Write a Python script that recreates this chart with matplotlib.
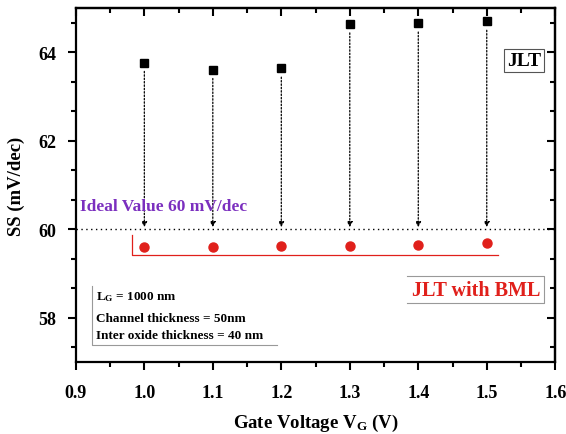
import matplotlib
matplotlib.use("Agg")
import matplotlib.pyplot as plt
from matplotlib.ticker import MultipleLocator, FormatStrFormatter
from matplotlib.patches import FancyArrowPatch

plt.rcParams['font.family'] = ['Liberation Serif', 'DejaVu Serif']
plt.rcParams['font.weight'] = 'bold'
plt.rcParams['mathtext.fontset'] = 'custom'
plt.rcParams['mathtext.rm'] = 'Liberation Serif:bold'
plt.rcParams['mathtext.it'] = 'Liberation Serif:bold'
plt.rcParams['mathtext.bf'] = 'Liberation Serif:bold'

# data
vg = [1.0, 1.1, 1.2, 1.3, 1.4, 1.5]
ss_jlt = [63.77, 63.61, 63.64, 64.64, 64.66, 64.70]
ss_bml = [59.61, 59.61, 59.62, 59.62, 59.64, 59.70]
ideal = 60

PURPLE = "#7b2fbf"
RED = "#e0201b"
GRAY = "#999999"

fig = plt.figure(figsize=(5.66, 4.35), dpi=100)
ax = fig.add_axes([0.134, 0.1655, 0.847, 0.8135])

ax.set_xlim(0.9, 1.6)
ax.set_ylim(57, 65)

# ideal value reference line
ax.axhline(ideal, color="black", ls=(0, (1, 2.5)), lw=1.0, zorder=1)

# dotted arrows from each JLT point down to the ideal line
for x, y in zip(vg, ss_jlt):
    arr = FancyArrowPatch((x, y - 0.2), (x, ideal + 0.05),
                          arrowstyle="-|>,head_length=3,head_width=1.6",
                          linestyle=(0, (1.2, 1.5)), lw=0.9, color="black",
                          shrinkA=0, shrinkB=0, zorder=2)
    ax.add_patch(arr)

ax.plot(vg, ss_jlt, "s", color="black", ms=6, zorder=4)
ax.plot(vg, ss_bml, "o", color=RED, ms=6.5, zorder=4)

# red bracket under the BML points
ax.plot([0.982, 0.982, 1.516], [59.86, 59.41, 59.41], color=RED, lw=0.9,
        zorder=3)

ax.text(0.906, 60.52, "Ideal Value 60 mV/dec", color=PURPLE, fontsize=12.5,
        fontweight="bold", ha="left", va="center")

ax.text(1.554, 63.82, "JLT", fontsize=14, fontweight="bold", ha="center",
        va="center",
        bbox=dict(boxstyle="square,pad=0.15", fc="white", ec="#555555", lw=0.8))

# legend-like label for the BML series, box open on the left
ax.text(1.579, 58.63, "JLT with BML", color=RED, fontsize=14.5,
        fontweight="bold", ha="right", va="center")
ax.plot([1.383, 1.583, 1.583, 1.383], [58.94, 58.94, 58.33, 58.33],
        color=GRAY, lw=0.8)

# parameter box, lower left
ax.plot([0.923, 0.923, 1.194], [58.72, 57.39, 57.39], color=GRAY, lw=0.8)
ax.text(0.93, 58.5, r"L$_{\mathregular{G}}$ = 1000 nm", fontsize=9.5,
        ha="left", va="center")
ax.text(0.93, 58.0, "Channel thickness = 50nm", fontsize=9.5,
        ha="left", va="center")
ax.text(0.93, 57.6, "Inter oxide thickness = 40 nm", fontsize=9.5,
        ha="left", va="center")

ax.set_xlabel(r"Gate Voltage V$_{\mathregular{G}}$ (V)", fontsize=13.5,
              fontweight="bold", labelpad=8)
ax.set_ylabel("SS (mV/dec)", fontsize=13.5, fontweight="bold", labelpad=10)

ax.xaxis.set_major_locator(MultipleLocator(0.1))
ax.xaxis.set_minor_locator(MultipleLocator(0.05))
ax.yaxis.set_major_locator(MultipleLocator(2))
ax.yaxis.set_minor_locator(MultipleLocator(2 / 3))
ax.xaxis.set_major_formatter(FormatStrFormatter("%.1f"))

ax.tick_params(which="both", direction="out", width=1.5, labelsize=13,
               pad=8)
ax.tick_params(which="major", length=6)
ax.tick_params(which="minor", length=3.5)
ax.tick_params(axis="x", pad=10)

# mirrored inward ticks on top and right
top = ax.secondary_xaxis("top")
top.xaxis.set_major_locator(MultipleLocator(0.1))
top.xaxis.set_minor_locator(MultipleLocator(0.05))
top.tick_params(which="both", direction="in", width=1.5, labeltop=False)
top.tick_params(which="major", length=6)
top.tick_params(which="minor", length=3.5)
right = ax.secondary_yaxis("right")
right.yaxis.set_major_locator(MultipleLocator(2))
right.yaxis.set_minor_locator(MultipleLocator(2 / 3))
right.tick_params(which="both", direction="in", width=1.5, labelright=False)
right.tick_params(which="major", length=6)
right.tick_params(which="minor", length=3.5)
for sp in list(ax.spines.values()) + [top.spines["top"], right.spines["right"]]:
    sp.set_linewidth(1.6)

fig.savefig("out.png", dpi=100)
